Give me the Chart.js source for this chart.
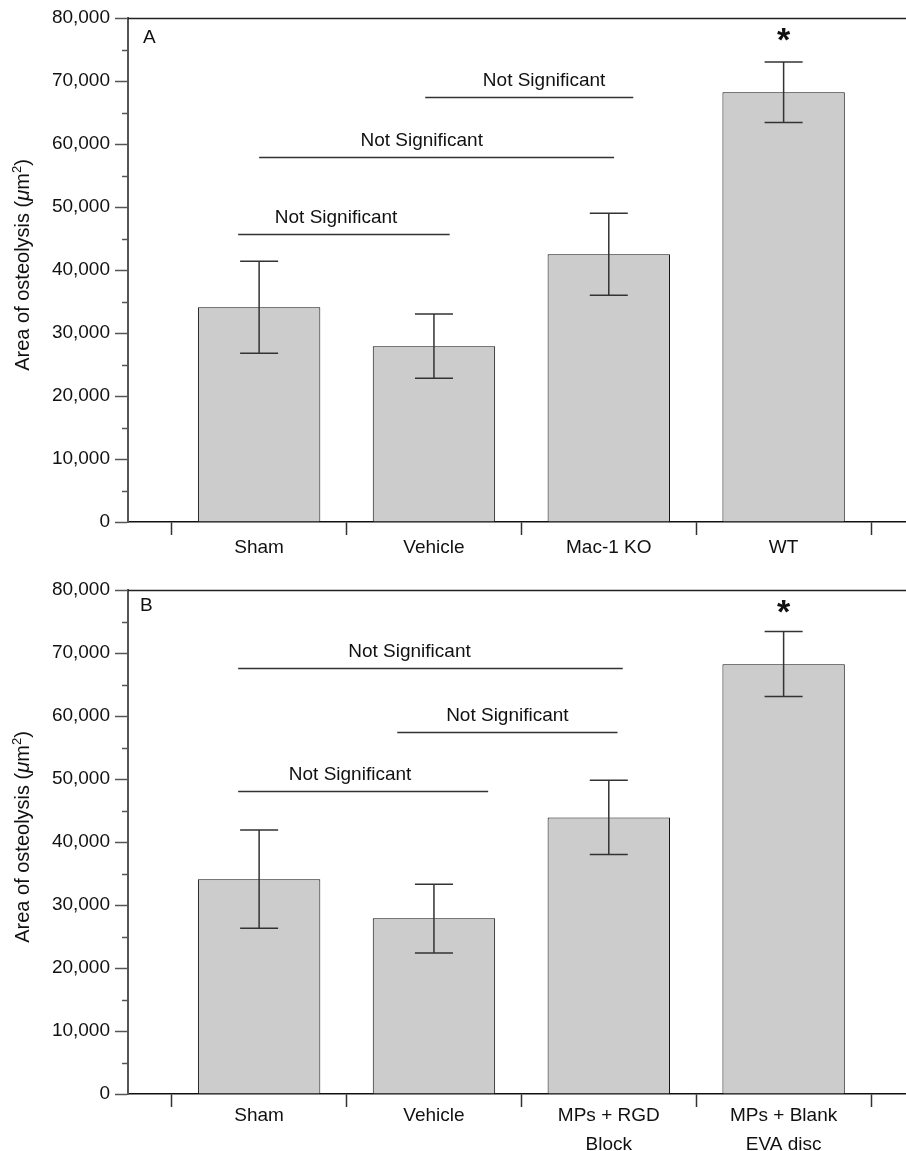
<!DOCTYPE html>
<html>
<head>
<meta charset="utf-8">
<script src="https://cdn.jsdelivr.net/npm/chart.js@4.4.1/dist/chart.umd.min.js"></script>
<style>
    body { margin: 0; background: #fff; }
    canvas { display: block; }
</style>
</head>
<body>
<canvas id="chartA" width="906" height="570"></canvas>
<canvas id="chartB" width="906" height="581"></canvas>
<script>
// ---- panel A ----
var labelsA = ['Sham', 'Vehicle', 'Mac-1 KO', 'WT'];
var meanA  = [34100, 27900, 42500, 68200];
var upperA = [41400, 33000, 49000, 73000];
var lowerA = [26800, 22800, 36000, 63400];
// "Not Significant" brackets (x in bar units, 1 = first bar)
var brStartA = [0.88, 1.00, 1.95];
var brEndA   = [2.09, 3.03, 3.14];
var brYA     = [45700, 58000, 67500];
var brTextXA = [1.44, 1.93, 2.63];

// ---- panel B ----
var labelsB = ['Sham', 'Vehicle', ['MPs + RGD', 'Block'], ['MPs + Blank', 'EVA disc']];
var meanB  = [34100, 27900, 43900, 68200];
var upperB = [41900, 33300, 49800, 73400];
var lowerB = [26300, 22400, 38000, 63100];
var brStartB = [0.88, 1.79, 0.88];
var brEndB   = [3.08, 3.05, 2.31];
var brYB     = [67600, 57500, 48100];
var brTextXB = [1.86, 2.42, 1.52];

var yTicks = [0, 80000, 10000];  // min, max, step
var starBar = 4;
var starY = 77900;

var FONT = "'Liberation Sans', Arial, Helvetica, sans-serif";
Chart.defaults.font.family = FONT;
Chart.defaults.font.size = 19;
Chart.defaults.color = '#111';

var extrasPlugin = {
    id: 'extras',
    afterDatasetsDraw: function(chart, args, o) {
        var ctx = chart.ctx, xs = chart.scales.x, ys = chart.scales.y, area = chart.chartArea;
        ctx.save();
        // error bars
        ctx.strokeStyle = '#333';
        ctx.lineWidth = 1.5;
        for (var i = 0; i < o.upper.length; i++) {
            var px = xs.getPixelForValue(i + 1);
            var yu = ys.getPixelForValue(o.upper[i]);
            var yl = ys.getPixelForValue(o.lower[i]);
            ctx.beginPath();
            ctx.moveTo(px, yu); ctx.lineTo(px, yl);
            ctx.moveTo(px - 19, yu); ctx.lineTo(px + 19, yu);
            ctx.moveTo(px - 19, yl); ctx.lineTo(px + 19, yl);
            ctx.stroke();
        }
        // brackets
        ctx.font = '19px ' + FONT;
        ctx.fillStyle = '#111';
        ctx.textAlign = 'center';
        ctx.textBaseline = 'alphabetic';
        for (var j = 0; j < o.brY.length; j++) {
            var by = Math.round(ys.getPixelForValue(o.brY[j])) + 0.5;
            ctx.beginPath();
            ctx.moveTo(xs.getPixelForValue(o.brStart[j]), by);
            ctx.lineTo(xs.getPixelForValue(o.brEnd[j]), by);
            ctx.stroke();
            ctx.fillText('Not Significant', xs.getPixelForValue(o.brTextX[j]), by - 12);
        }
        // asterisk
        ctx.font = 'bold 34px ' + FONT;
        ctx.fillText('*', xs.getPixelForValue(starBar), ys.getPixelForValue(starY) + 20);
        // frame top line
        ctx.strokeStyle = '#222';
        ctx.beginPath();
        ctx.moveTo(area.left, area.top + 0.5);
        ctx.lineTo(area.right, area.top + 0.5);
        ctx.stroke();
        // minor y ticks
        ctx.strokeStyle = '#555';
        for (var v = yTicks[0] + yTicks[2] / 2; v < yTicks[1]; v += yTicks[2]) {
            var ty = Math.round(ys.getPixelForValue(v)) + 0.5;
            ctx.beginPath();
            ctx.moveTo(area.left - 6, ty); ctx.lineTo(area.left, ty);
            ctx.stroke();
        }
        // panel letter
        ctx.font = '19px ' + FONT;
        ctx.textAlign = 'left';
        ctx.fillText(o.letter, area.left + o.letterDx, area.top + o.letterDy);
        // y title with italic mu and superscript
        var parts = [
            ['Area of osteolysis (', '20px ', 0],
            ['\u03bc', 'italic 20px ', 0],
            ['m', '20px ', 0],
            ['2', '13px ', -8],
            [')', '20px ', 0]
        ];
        var w = 0;
        parts.forEach(function(p) { ctx.font = p[1] + FONT; w += ctx.measureText(p[0]).width; });
        ctx.translate(29, (area.top + area.bottom) / 2 - 5);
        ctx.rotate(-Math.PI / 2);
        var cx = -w / 2;
        parts.forEach(function(p) {
            ctx.font = p[1] + FONT;
            ctx.fillText(p[0], cx, p[2]);
            cx += ctx.measureText(p[0]).width;
        });
        ctx.restore();
    }
};

function makeChart(id, labels, means, extras, padTop, axisH, labelPad) {
    var points = means.map(function(m, i) { return { x: i + 1, y: m }; });
    return new Chart(document.getElementById(id), {
        type: 'bar',
        data: {
            datasets: [{
                data: points,
                backgroundColor: '#cccccc',
                borderColor: '#111',
                borderWidth: 1,
                categoryPercentage: 1,
                barPercentage: 1.4
            }]
        },
        options: {
            responsive: false,
            animation: false,
            layout: { padding: { top: padTop, left: 0, right: 0, bottom: 0 } },
            plugins: { legend: { display: false }, tooltip: { enabled: false }, extras: extras },
            scales: {
                x: {
                    type: 'linear',
                    offset: false,
                    min: 0.25,
                    max: 4.7,
                    afterBuildTicks: function(s) {
                        var t = [];
                        for (var v = 0.5; v <= 4.5; v += 0.5) t.push({ value: v });
                        s.ticks = t;
                    },
                    afterFit: function(s) { s.height = axisH; },
                    ticks: {
                        autoSkip: false,
                        maxRotation: 0,
                        padding: labelPad,
                        font: { size: 19, lineHeight: 1.5 },
                        callback: function(v) { return Number.isInteger(v) ? labels[v - 1] : ''; }
                    },
                    grid: {
                        offset: false,
                        drawOnChartArea: false,
                        tickLength: 13,
                        tickWidth: 1.5,
                        tickColor: function(c) {
                            return (c.tick && Number.isInteger(c.tick.value)) ? 'rgba(0,0,0,0)' : '#333';
                        }
                    },
                    border: { color: '#111', width: 1.5 }
                },
                y: {
                    min: yTicks[0],
                    max: yTicks[1],
                    afterFit: function(s) { s.width = 128; },
                    ticks: {
                        stepSize: yTicks[2],
                        padding: 5,
                        callback: function(v) { return v.toLocaleString('en-US'); }
                    },
                    grid: { drawOnChartArea: false, tickLength: 13, tickWidth: 1.5, color: '#555' },
                    border: { color: '#555', width: 2 }
                }
            }
        },
        plugins: [extrasPlugin]
    });
}

makeChart('chartA', labelsA, meanA, {
    upper: upperA, lower: lowerA, brStart: brStartA, brEnd: brEndA, brY: brYA, brTextX: brTextXA,
    letter: 'A', letterDx: 15, letterDy: 25
}, 18, 48, -1);

makeChart('chartB', labelsB, meanB, {
    upper: upperB, lower: lowerB, brStart: brStartB, brEnd: brEndB, brY: brYB, brTextX: brTextXB,
    letter: 'B', letterDx: 12, letterDy: 21
}, 20, 57, -5);
</script>
</body>
</html>
